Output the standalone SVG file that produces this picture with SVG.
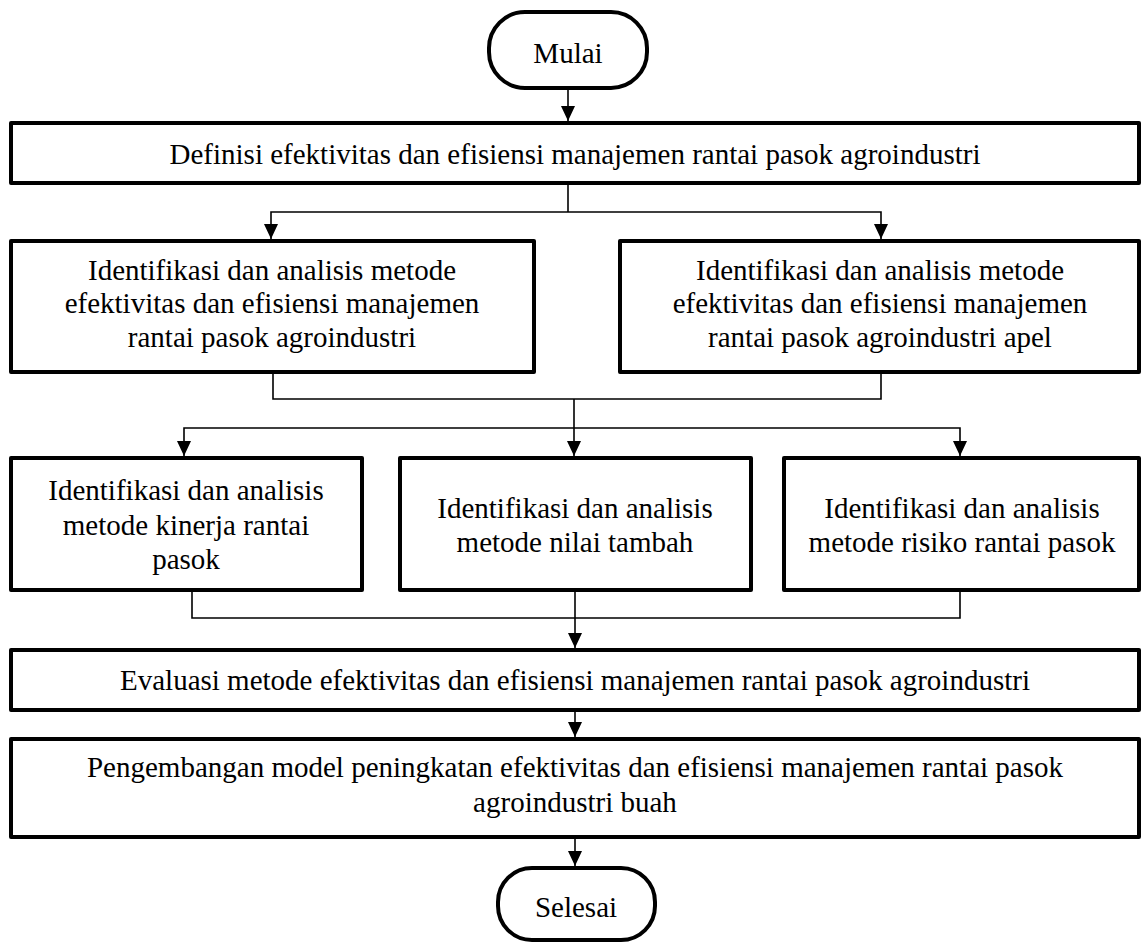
<svg xmlns="http://www.w3.org/2000/svg" width="1141" height="942" viewBox="0 0 1141 942">
<style>
.box{fill:#fff;stroke:#000;stroke-width:4;stroke-linejoin:round}
.term{fill:#fff;stroke:#000;stroke-width:4}
.t{font-family:"Liberation Serif","Times New Roman",serif;font-size:29px;fill:#000;text-anchor:middle}
.c{fill:none;stroke:#000;stroke-width:1.6}
</style>
<defs>
<marker id="ah" markerUnits="userSpaceOnUse" markerWidth="16" markerHeight="16" viewBox="0 0 16 16" refX="15" refY="8" orient="auto">
<path d="M0,1 L15,8 L0,15 Z" fill="#000"/>
</marker>
</defs>
<rect width="1141" height="942" fill="#fff"/>
<g id="connectors">
<line class="c" x1="568" y1="90" x2="568" y2="121" marker-end="url(#ah)"/>
<polyline class="c" points="568,185 568,212"/>
<polyline class="c" points="568,212 271,212 271,239" marker-end="url(#ah)"/>
<polyline class="c" points="568,212 881,212 881,239" marker-end="url(#ah)"/>
<polyline class="c" points="273,374 273,399 881,399 881,374"/>
<polyline class="c" points="574,399 574,428"/>
<polyline class="c" points="574,428 184,428 184,456" marker-end="url(#ah)"/>
<line class="c" x1="574" y1="428" x2="574" y2="456" marker-end="url(#ah)"/>
<polyline class="c" points="574,428 960,428 960,456" marker-end="url(#ah)"/>
<polyline class="c" points="192,592 192,618 960,618 960,592"/>
<line class="c" x1="575" y1="592" x2="575" y2="648" marker-end="url(#ah)"/>
<line class="c" x1="575" y1="712" x2="575" y2="737" marker-end="url(#ah)"/>
<line class="c" x1="575" y1="839" x2="575" y2="866" marker-end="url(#ah)"/>
</g>
<g id="mulai">
<rect class="term" x="489" y="12" width="158" height="76" rx="36" ry="36"/>
<text class="t" x="568" y="63">Mulai</text>
</g>
<g id="definisi">
<rect class="box" x="11" y="123" width="1128" height="60"/>
<text class="t" x="575" y="164">Definisi efektivitas dan efisiensi manajemen rantai pasok agroindustri</text>
</g>
<g id="identifikasi-agroindustri">
<rect class="box" x="11" y="241" width="523" height="131"/>
<text class="t" x="272" y="280">Identifikasi dan analisis metode</text>
<text class="t" x="272" y="313">efektivitas dan efisiensi manajemen</text>
<text class="t" x="272" y="347">rantai pasok agroindustri</text>
</g>
<g id="identifikasi-apel">
<rect class="box" x="620" y="241" width="519" height="131"/>
<text class="t" x="880" y="280">Identifikasi dan analisis metode</text>
<text class="t" x="880" y="313">efektivitas dan efisiensi manajemen</text>
<text class="t" x="880" y="347">rantai pasok agroindustri apel</text>
</g>
<g id="kinerja">
<rect class="box" x="11" y="458" width="351" height="132"/>
<text class="t" x="186" y="500">Identifikasi dan analisis</text>
<text class="t" x="186" y="535">metode kinerja rantai</text>
<text class="t" x="186" y="569">pasok</text>
</g>
<g id="nilai-tambah">
<rect class="box" x="400" y="458" width="351" height="132"/>
<text class="t" x="575" y="518">Identifikasi dan analisis</text>
<text class="t" x="575" y="552">metode nilai tambah</text>
</g>
<g id="risiko">
<rect class="box" x="784" y="458" width="355" height="132"/>
<text class="t" x="962" y="518">Identifikasi dan analisis</text>
<text class="t" x="962" y="552">metode risiko rantai pasok</text>
</g>
<g id="evaluasi">
<rect class="box" x="11" y="650" width="1128" height="60"/>
<text class="t" x="575" y="690">Evaluasi metode efektivitas dan efisiensi manajemen rantai pasok agroindustri</text>
</g>
<g id="pengembangan">
<rect class="box" x="11" y="739" width="1128" height="98"/>
<text class="t" x="575" y="777">Pengembangan model peningkatan efektivitas dan efisiensi manajemen rantai pasok</text>
<text class="t" x="575" y="812">agroindustri buah</text>
</g>
<g id="selesai">
<rect class="term" x="498" y="868" width="157" height="72" rx="34" ry="34"/>
<text class="t" x="576" y="917">Selesai</text>
</g>
</svg>
